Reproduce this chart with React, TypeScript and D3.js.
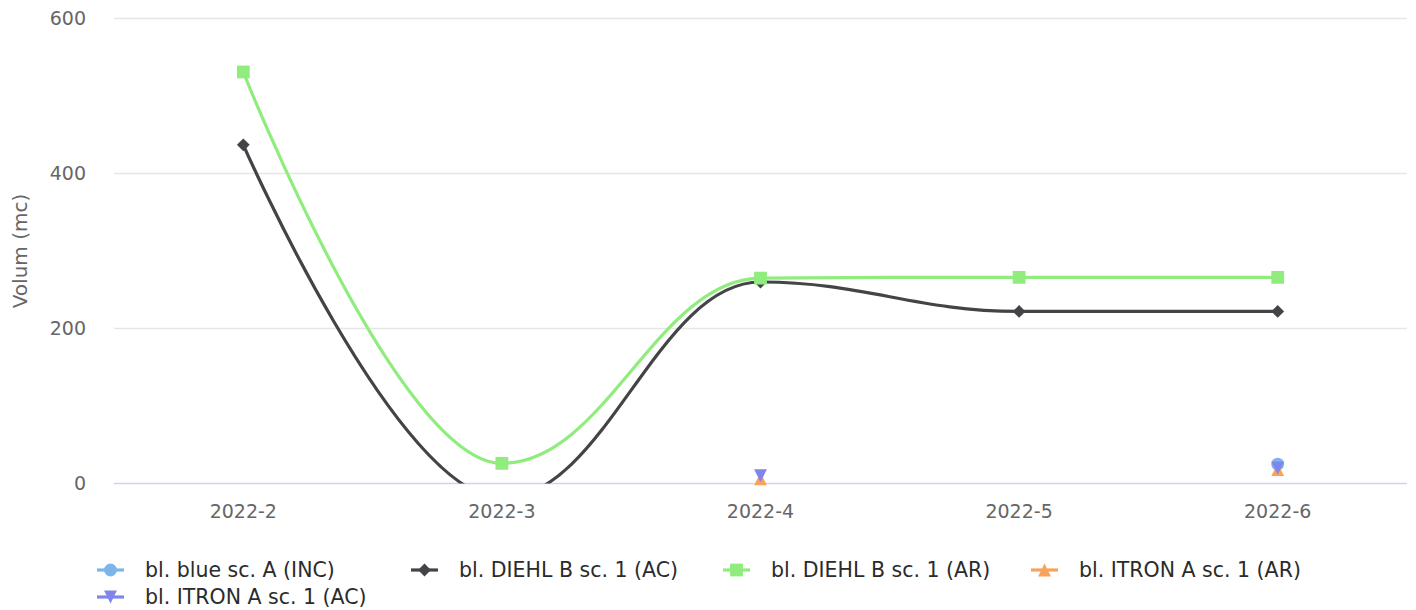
import React, { useEffect, useRef } from 'react';
import * as d3 from 'd3';

const categories = ['2022-2', '2022-3', '2022-4', '2022-5', '2022-6'];
const blueIncValues: (number | null)[] = [null, null, null, null, 25];
const diehlAcValues: (number | null)[] = [437, -19, 260, 222, 222];
const diehlArValues: (number | null)[] = [531, 26, 265, 266, 266];
const itronArValues: (number | null)[] = [null, null, 6, null, 18];
const itronAcValues: (number | null)[] = [null, null, 10, null, 20];
const yTicks = [0, 200, 400, 600];

interface Series {
  name: string;
  values: (number | null)[];
  color: string;
  symbol: string;
}

const series: Series[] = [
  { name: 'bl. blue sc. A (INC)', values: blueIncValues, color: '#7cb5ec', symbol: 'circle' },
  { name: 'bl. DIEHL B sc. 1 (AC)', values: diehlAcValues, color: '#434348', symbol: 'diamond' },
  { name: 'bl. DIEHL B sc. 1 (AR)', values: diehlArValues, color: '#90ed7d', symbol: 'square' },
  { name: 'bl. ITRON A sc. 1 (AR)', values: itronArValues, color: '#f7a35c', symbol: 'triangle' },
  { name: 'bl. ITRON A sc. 1 (AC)', values: itronAcValues, color: '#8085e9', symbol: 'triangle-down' },
];

// spline like highcharts: smoothing 1.5, no false extremes
function curveSpline(context: any) {
  let pts: [number, number][] = [];
  return {
    areaStart() {},
    areaEnd() {},
    lineStart() {
      pts = [];
    },
    point(x: number, y: number) {
      pts.push([+x, +y]);
    },
    lineEnd() {
      if (!pts.length) return;
      const smoothing = 1.5;
      const denom = smoothing + 1;
      const ctrl = pts.map((p, i) => {
        const last = pts[i - 1];
        const next = pts[i + 1];
        if (!last || !next) return { lx: p[0], ly: p[1], rx: p[0], ry: p[1] };
        const lx = (smoothing * p[0] + last[0]) / denom;
        let ly = (smoothing * p[1] + last[1]) / denom;
        const rx = (smoothing * p[0] + next[0]) / denom;
        let ry = (smoothing * p[1] + next[1]) / denom;
        let corr = 0;
        if (rx !== lx) corr = ((ry - ly) * (rx - p[0])) / (rx - lx) + p[1] - ry;
        ly += corr;
        ry += corr;
        if (ly > last[1] && ly > p[1]) {
          ly = Math.max(last[1], p[1]);
          ry = 2 * p[1] - ly;
        } else if (ly < last[1] && ly < p[1]) {
          ly = Math.min(last[1], p[1]);
          ry = 2 * p[1] - ly;
        }
        if (ry > next[1] && ry > p[1]) {
          ry = Math.max(next[1], p[1]);
          ly = 2 * p[1] - ry;
        } else if (ry < next[1] && ry < p[1]) {
          ry = Math.min(next[1], p[1]);
          ly = 2 * p[1] - ry;
        }
        return { lx, ly, rx, ry };
      });
      context.moveTo(pts[0][0], pts[0][1]);
      for (let i = 1; i < pts.length; i++) {
        const a = ctrl[i - 1];
        const b = ctrl[i];
        context.bezierCurveTo(a.rx, a.ry, b.lx, b.ly, pts[i][0], pts[i][1]);
      }
    },
  };
}

function symbolPath(symbol: string, cx: number, cy: number, r: number) {
  const p = d3.path();
  if (symbol === 'circle') {
    p.arc(cx, cy, r, 0, Math.PI * 2);
  } else if (symbol === 'square') {
    p.rect(cx - r, cy - r, 2 * r, 2 * r);
  } else if (symbol === 'diamond') {
    p.moveTo(cx, cy - r);
    p.lineTo(cx + r, cy);
    p.lineTo(cx, cy + r);
    p.lineTo(cx - r, cy);
    p.closePath();
  } else if (symbol === 'triangle') {
    p.moveTo(cx, cy - r);
    p.lineTo(cx + r, cy + r);
    p.lineTo(cx - r, cy + r);
    p.closePath();
  } else {
    p.moveTo(cx - r, cy - r);
    p.lineTo(cx + r, cy - r);
    p.lineTo(cx, cy + r);
    p.closePath();
  }
  return p.toString();
}

const App: React.FC = () => {
  const ref = useRef<SVGSVGElement>(null);

  useEffect(() => {
    const svg = d3.select(ref.current);
    svg.selectAll('*').remove();

    const font = '"DejaVu Sans", Verdana, sans-serif';
    const left = 114;
    const right = 1407;
    const top = 18.5;
    const bottom = 483.5;

    const x = d3.scaleBand().domain(categories).range([left, right]);
    const cx = (c: string) => (x(c) ?? 0) + x.bandwidth() / 2;
    const y = d3.scaleLinear().domain([0, 600]).range([bottom, top]);

    svg
      .append('defs')
      .append('clipPath')
      .attr('id', 'plot-clip')
      .append('rect')
      .attr('x', left)
      .attr('y', top)
      .attr('width', right - left)
      .attr('height', bottom - top);

    // grid + y labels
    const grid = svg.append('g');
    yTicks.forEach((t) => {
      if (t !== 0) {
        grid
          .append('line')
          .attr('x1', left)
          .attr('x2', right)
          .attr('y1', y(t))
          .attr('y2', y(t))
          .attr('stroke', '#e6e6e6')
          .attr('stroke-width', 1.6);
      }
      grid
        .append('text')
        .attr('x', 86)
        .attr('y', y(t))
        .attr('dy', '0.36em')
        .attr('text-anchor', 'end')
        .attr('font-family', font)
        .attr('font-size', 19)
        .attr('fill', '#666666')
        .text(t);
    });

    // x axis line
    svg
      .append('line')
      .attr('x1', left)
      .attr('x2', right)
      .attr('y1', y(0))
      .attr('y2', y(0))
      .attr('stroke', '#ccd6eb')
      .attr('stroke-width', 1.6);

    categories.forEach((c) => {
      svg
        .append('text')
        .attr('x', cx(c))
        .attr('y', 518)
        .attr('text-anchor', 'middle')
        .attr('font-family', font)
        .attr('font-size', 19)
        .attr('fill', '#666666')
        .text(c);
    });

    svg
      .append('text')
      .attr('transform', `translate(27,${(top + bottom) / 2}) rotate(-90)`)
      .attr('text-anchor', 'middle')
      .attr('font-family', font)
      .attr('font-size', 20)
      .attr('fill', '#666666')
      .text('Volum (mc)');

    const line = d3
      .line<number | null>()
      .defined((d) => d !== null)
      .x((_, i) => cx(categories[i]))
      .y((d) => y(d as number))
      .curve(curveSpline as any);

    series.forEach((s) => {
      const g = svg.append('g');
      g.append('path')
        .attr('d', line(s.values) ?? '')
        .attr('fill', 'none')
        .attr('stroke', s.color)
        .attr('stroke-width', 3.2)
        .attr('stroke-linejoin', 'round')
        .attr('stroke-linecap', 'round')
        .attr('clip-path', 'url(#plot-clip)');
      s.values.forEach((v, i) => {
        if (v === null) return;
        const py = y(v);
        // points outside the plot area get no marker
        if (py > bottom + 0.5 || py < top - 0.5) return;
        g.append('path')
          .attr('d', symbolPath(s.symbol, cx(categories[i]), py, 6.4))
          .attr('fill', s.color);
      });
    });

    // legend
    const colX = [97, 411, 723, 1031];
    const rowY = [570, 597];
    series.forEach((s, i) => {
      const lx = colX[i % 4];
      const ly = rowY[Math.floor(i / 4)];
      const g = svg.append('g');
      g.append('line')
        .attr('x1', lx)
        .attr('x2', lx + 27)
        .attr('y1', ly)
        .attr('y2', ly)
        .attr('stroke', s.color)
        .attr('stroke-width', 3.2);
      g.append('path').attr('d', symbolPath(s.symbol, lx + 13.5, ly, 6.4)).attr('fill', s.color);
      g.append('text')
        .attr('x', lx + 48)
        .attr('y', ly)
        .attr('dy', '0.36em')
        .attr('font-family', font)
        .attr('font-size', 20.5)
        .attr('fill', '#2b2b2b')
        .text(s.name);
    });
  }, []);

  return (
    <svg
      ref={ref}
      width={1416}
      height={610}
      style={{ position: 'absolute', left: 0, top: 0, background: '#ffffff' }}
    />
  );
};

export default App;
